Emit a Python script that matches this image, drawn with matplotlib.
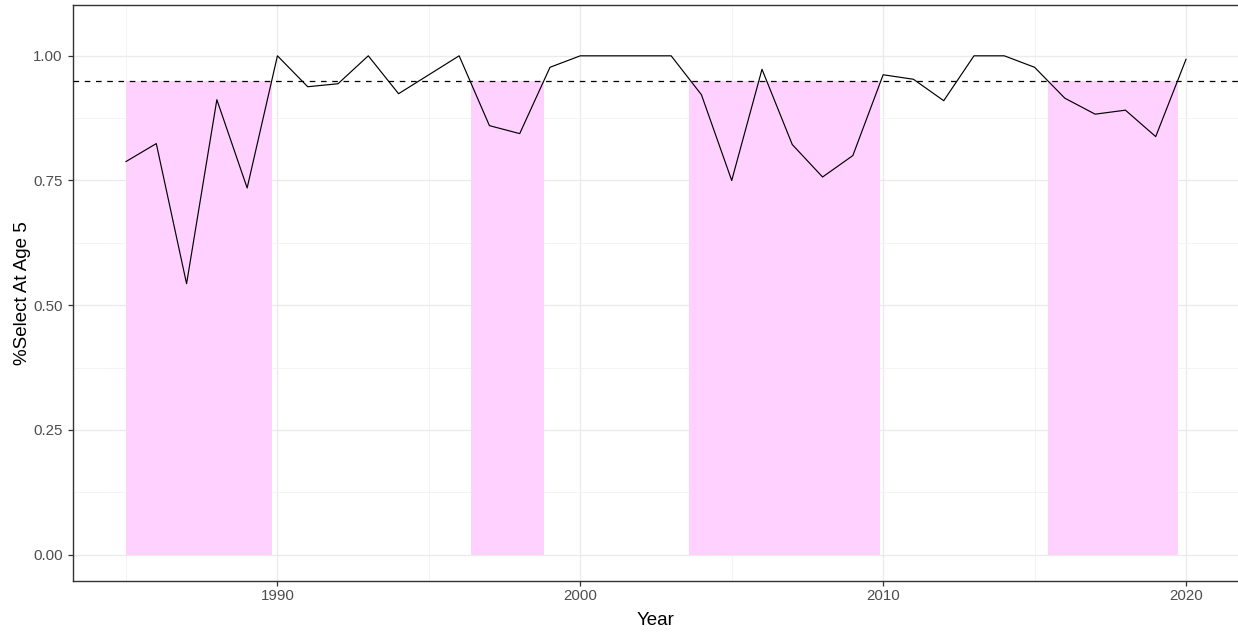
import numpy as np
import matplotlib.pyplot as plt
from matplotlib.patches import Rectangle

plt.rcParams['font.family'] = ['Liberation Sans', 'DejaVu Sans']

# %select at age 5 by year
years = list(range(1985, 2021))
select_age5 = [0.788, 0.824, 0.543, 0.912, 0.735, 1.000, 0.938, 0.944, 1.000, 0.924,
               0.962, 1.000, 0.860, 0.844, 0.977, 1.000, 1.000, 1.000, 1.000, 0.922,
               0.750, 0.973, 0.822, 0.757, 0.800, 0.962, 0.953, 0.910, 1.000, 1.000,
               0.977, 0.915, 0.883, 0.891, 0.838, 0.993]

threshold = 0.95

# shaded periods (start, end)
span_start = [1985.0, 1996.4, 2003.6, 2015.45]
span_end = [1989.82, 1998.8, 2009.9, 2019.75]

fig = plt.figure(figsize=(12.38, 6.34), dpi=100)
# panel runs slightly past the right edge of the image, as in the original
ax = fig.add_axes([73 / 1238, 1 - 580.7 / 634, 1166 / 1238, 576 / 634])

for s, e in zip(span_start, span_end):
    ax.add_patch(Rectangle((s, 0), e - s, threshold, facecolor='#FFD1FF',
                           edgecolor='none', zorder=1))

ax.plot(years, select_age5, color='black', lw=0.85, zorder=3)
ax.axhline(threshold, color='black', lw=0.9, dashes=(4.5, 4.5), zorder=3)

ax.set_xlim(1983.25, 2021.75)
ax.set_ylim(-0.0525, 1.1025)
ax.set_xticks([1990, 2000, 2010, 2020])
ax.set_xticks([1985, 1995, 2005, 2015], minor=True)
ax.set_yticks([0, 0.25, 0.5, 0.75, 1.0])
ax.set_yticks([0.125, 0.375, 0.625, 0.875], minor=True)
ax.set_yticklabels(['0.00', '0.25', '0.50', '0.75', '1.00'])

ax.grid(which='major', color='#EBEBEB', lw=1.0, zorder=0)
ax.grid(which='minor', color='#F3F3F3', lw=0.6, zorder=0)
ax.set_axisbelow(True)

for sp in ax.spines.values():
    sp.set_color('#333333')
    sp.set_linewidth(1.0)

ax.tick_params(which='major', length=3.3, width=0.9, color='#333333',
               labelsize=10.8, labelcolor='#4D4D4D')
ax.tick_params(axis='x', which='major', pad=3)
ax.tick_params(axis='y', which='major', pad=4)
ax.tick_params(which='minor', length=0)

ax.set_xlabel('Year', fontsize=13.5, color='black')
ax.set_ylabel('%Select At Age 5', fontsize=13.5, color='black')
ax.xaxis.set_label_coords(0.5, -0.0535)
ax.yaxis.set_label_coords(-0.0357, 0.5)

plt.savefig('out.png', dpi=100)
